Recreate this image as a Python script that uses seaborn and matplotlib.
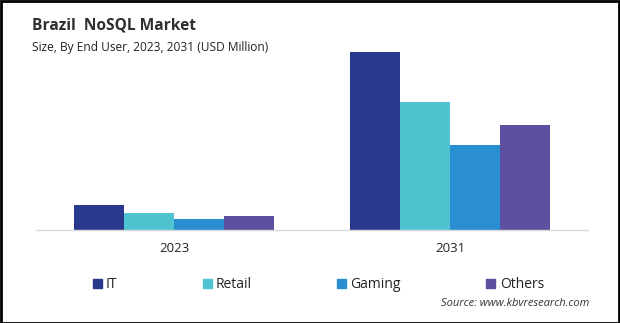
import matplotlib
matplotlib.use("Agg")
import matplotlib.pyplot as plt
from matplotlib.patches import Rectangle
import seaborn as sns
import pandas as pd

# Market size by end user (USD Million)
years = ["2023", "2031"]
segments = ["IT", "Retail", "Gaming", "Others"]
it_values = [25, 178]
retail_values = [17, 128]
gaming_values = [11, 85]
others_values = [14, 105]

palette = ["#293a8e", "#4fc3cf", "#2a8fd0", "#5f4fa1"]

rows = []
for seg, vals in zip(segments, [it_values, retail_values, gaming_values, others_values]):
    for yr, v in zip(years, vals):
        rows.append({"Year": yr, "Segment": seg, "Value": v})
df = pd.DataFrame(rows)

sns.set_theme(style="white")
plt.rcParams["font.family"] = ["Open Sans", "DejaVu Sans"]

fig = plt.figure(figsize=(6.2, 3.23), dpi=100)
W, H = 620, 323
ax = fig.add_axes([36 / W, (H - 230) / H, 552 / W, 185 / H])

sns.barplot(data=df, x="Year", y="Value", hue="Segment", order=years,
            hue_order=segments, palette=palette, width=0.727,
            saturation=1, linewidth=0, ax=ax, legend=False)

ax.set_xlim(-0.5, 1.5)
ax.set_ylim(0, 185)
ax.set_xlabel("")
ax.set_ylabel("")
ax.set_yticks([])
for s in ["top", "right", "left"]:
    ax.spines[s].set_visible(False)
ax.spines["bottom"].set_color("#d9d9d9")
ax.spines["bottom"].set_linewidth(1)
ax.tick_params(axis="x", length=0, pad=9, labelsize=9.5, labelcolor="#222222")

# Title and subtitle
fig.text(32 / W, 1 - 30 / H, "Brazil  NoSQL Market", fontsize=11.2,
         fontweight="bold", color="#2f2f2f", ha="left", va="baseline")
fig.text(32 / W, 1 - 51 / H, "Size, By End User, 2023, 2031 (USD Million)",
         fontsize=8.6, color="#222222", ha="left", va="baseline")

# Legend
handles = [Rectangle((0, 0), 1, 1, color=c) for c in palette]
fig.legend(handles, segments, loc="center left",
           bbox_to_anchor=(80 / W, 1 - 285 / H), ncol=4, frameon=False,
           handlelength=0.65, handleheight=0.65, handletextpad=0.3,
           columnspacing=6.15, fontsize=10, labelcolor="#222222")

# Source note
fig.text(589 / W, 1 - 304 / H, "Source: www.kbvresearch.com", fontsize=8,
         style="italic", color="#333333", ha="right", va="center")

# Frame around the figure
fig.patches.append(Rectangle((0.5 / W, 0.5 / H), 1 - 1.5 / W, 1 - 1.5 / H,
                             transform=fig.transFigure, fill=False,
                             edgecolor="black", linewidth=2))

fig.savefig("out.png", dpi=100)
